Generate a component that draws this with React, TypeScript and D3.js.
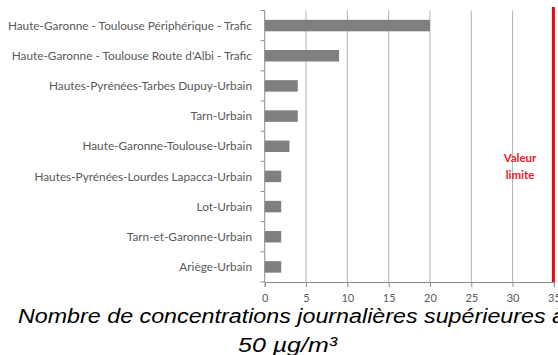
import React from 'react'
import * as d3 from 'd3'

const categories = [
  'Haute-Garonne - Toulouse Périphérique - Trafic',
  "Haute-Garonne - Toulouse Route d'Albi - Trafic",
  'Hautes-Pyrénées-Tarbes Dupuy-Urbain',
  'Tarn-Urbain',
  'Haute-Garonne-Toulouse-Urbain',
  'Hautes-Pyrénées-Lourdes Lapacca-Urbain',
  'Lot-Urbain',
  'Tarn-et-Garonne-Urbain',
  'Ariège-Urbain',
]
const values = [20, 9, 4, 4, 3, 2, 2, 2, 2]
const xTicks = [0, 5, 10, 15, 20, 25, 30, 35]
const limitValue = 35
const limitLabel = ['Valeur', 'limite']
const titleLines = ['Nombre de concentrations journalières supérieures à', '50 µg/m³']

const App = () => {
  const svgRef = React.useRef(null)
  const width = 558
  const height = 355
  const plot = { left: 264.7, right: 553.9, top: 10.5, bottom: 282 }

  React.useEffect(() => {
    const x = d3.scaleLinear().domain([0, 35]).range([plot.left, plot.right])
    const y = d3
      .scaleBand()
      .domain(categories)
      .range([plot.top, plot.bottom])
      .paddingInner(0.62)
      .paddingOuter(0.31)

    const svg = d3.select(svgRef.current)
    svg.selectAll('*').remove()

    // vertical grid
    svg
      .append('g')
      .selectAll('line')
      .data(xTicks.filter((t) => t > 0 && t < 35))
      .enter()
      .append('line')
      .attr('x1', (d) => x(d))
      .attr('x2', (d) => x(d))
      .attr('y1', plot.top)
      .attr('y2', plot.bottom)
      .attr('stroke', '#b3b3b3')
      .attr('stroke-width', 1)

    // bars
    svg
      .append('g')
      .selectAll('rect')
      .data(values)
      .enter()
      .append('rect')
      .attr('x', x(0))
      .attr('y', (d, i) => y(categories[i]))
      .attr('width', (d) => x(d) - x(0))
      .attr('height', y.bandwidth())
      .attr('fill', '#7f7f7f')

    // bottom axis
    const xAxis = d3.axisBottom(x).tickValues(xTicks).tickSize(5).tickPadding(7)
    const xg = svg
      .append('g')
      .attr('transform', `translate(0,${plot.bottom})`)
      .call(xAxis)
    xg.select('.domain').attr('stroke', '#8c8c8c')
    xg.selectAll('line').attr('stroke', '#8c8c8c')
    xg.selectAll('text')
      .attr('fill', '#595959')
      .attr('font-family', 'Lato, sans-serif')
      .attr('font-size', 11)

    // left axis with ticks at category boundaries
    const step = y.step()
    const bounds = d3.range(categories.length + 1).map((i) => plot.top + i * step)
    svg
      .append('line')
      .attr('x1', plot.left)
      .attr('x2', plot.left)
      .attr('y1', plot.top)
      .attr('y2', plot.bottom)
      .attr('stroke', '#8c8c8c')
    svg
      .append('g')
      .selectAll('line')
      .data(bounds)
      .enter()
      .append('line')
      .attr('x1', plot.left - 4)
      .attr('x2', plot.left)
      .attr('y1', (d) => d)
      .attr('y2', (d) => d)
      .attr('stroke', '#8c8c8c')

    // category labels
    svg
      .append('g')
      .selectAll('text')
      .data(categories)
      .enter()
      .append('text')
      .attr('x', 252)
      .attr('y', (d) => y(d) + y.bandwidth() / 2)
      .attr('dy', '0.35em')
      .attr('text-anchor', 'end')
      .attr('fill', '#595959')
      .attr('font-family', 'Lato, sans-serif')
      .attr('font-size', 11.8)
      .text((d) => d)

    // limit line
    svg
      .append('line')
      .attr('x1', x(limitValue) - 0.5)
      .attr('x2', x(limitValue) - 0.5)
      .attr('y1', 7)
      .attr('y2', plot.bottom)
      .attr('stroke', '#e30613')
      .attr('stroke-width', 3)
    svg
      .append('g')
      .selectAll('text')
      .data(limitLabel)
      .enter()
      .append('text')
      .attr('x', 520)
      .attr('y', (d, i) => 162 + i * 16.5)
      .attr('text-anchor', 'middle')
      .attr('fill', '#e8202a')
      .attr('font-family', 'Lato, sans-serif')
      .attr('font-weight', 'bold')
      .attr('font-size', 11.5)
      .text((d) => d)

    // axis title
    svg
      .append('text')
      .attr('x', 18)
      .attr('y', 323)
      .attr('font-family', 'Liberation Sans, Arial, sans-serif')
      .attr('font-style', 'italic')
      .attr('font-size', 20.5)
      .attr('textLength', 547)
      .attr('lengthAdjust', 'spacingAndGlyphs')
      .attr('fill', '#000')
      .text(titleLines[0])
    svg
      .append('text')
      .attr('x', 238)
      .attr('y', 352)
      .attr('font-family', 'Liberation Sans, Arial, sans-serif')
      .attr('font-style', 'italic')
      .attr('font-size', 20.5)
      .attr('textLength', 99)
      .attr('lengthAdjust', 'spacingAndGlyphs')
      .attr('fill', '#000')
      .text(titleLines[1])
  }, [])

  return (
    <svg
      ref={svgRef}
      width={width}
      height={height}
      style={{ position: 'absolute', left: 0, top: 0, background: '#fff' }}
    />
  )
}

export default App
